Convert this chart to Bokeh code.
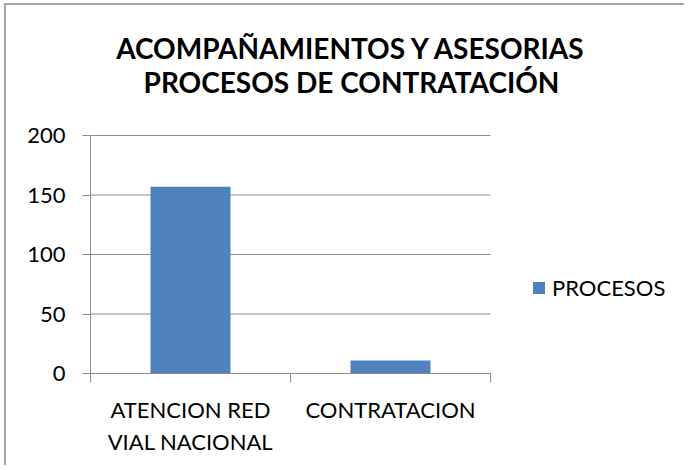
from bokeh.plotting import figure
from bokeh.models import (Range1d, LinearAxis, FixedTicker, Legend, LegendItem,
                          ColumnDataSource, Label)
from bokeh.embed import file_html
from bokeh.resources import INLINE

categories = ["ATENCION RED\nVIAL NACIONAL", "CONTRATACION"]
procesos = [157, 11]
y_ticks = [0, 50, 100, 150, 200]
series_name = "PROCESOS"
title_lines = ["ACOMPAÑAMIENTOS Y ASESORIAS", "PROCESOS DE CONTRATACIÓN"]

FONT = "Lato"
GRAY = "#8c8c8c"
BLUE = "#4F81BD"

# layout (pixels on the canvas)
W, H = 680, 462
LEFT, BOTTOM_PAD, TOP_PAD, RIGHT_PAD = 84, 94, 5, 2
AXIS_W, AXIS_H = 400, 238           # pixel extent of the category axis and the 0..200 value axis
frame_w = W - LEFT - RIGHT_PAD
frame_h = H - BOTTOM_PAD - TOP_PAD

n = len(categories)
y_max = y_ticks[-1]
centers = [i + 0.5 for i in range(n)]
src = ColumnDataSource(dict(x=centers, val=procesos, cat=categories))
grid_src = ColumnDataSource(dict(y=y_ticks, x0=[0] * len(y_ticks), x1=[n] * len(y_ticks)))

p = figure(width=W, height=H, output_backend="svg", toolbar_location=None,
           x_range=Range1d(0, n * frame_w / AXIS_W),
           y_range=Range1d(0, y_max * frame_h / AXIS_H),
           x_axis_location=None, title=None,
           min_border_left=LEFT, min_border_right=RIGHT_PAD,
           min_border_top=TOP_PAD, min_border_bottom=BOTTOM_PAD)
p.styles = {"border-left": "2px solid #a6a6a6", "border-top": "2px solid #a6a6a6",
            "margin-left": "4px", "margin-top": "3px"}
p.outline_line_color = None
p.background_fill_color = "white"
p.border_fill_color = "white"
p.xgrid.visible = False
p.ygrid.visible = False

# horizontal gridlines at the value ticks, only across the category span
p.segment(x0="x0", x1="x1", y0="y", y1="y", source=grid_src, line_color=GRAY, line_width=1)

r = p.vbar(x="x", top="val", width=0.4, source=src, fill_color=BLUE, line_color=None)

# y axis
ya = p.yaxis[0]
ya.ticker = FixedTicker(ticks=y_ticks, minor_ticks=[])
ya.bounds = (0, y_max)
ya.axis_line_color = GRAY
ya.major_tick_line_color = GRAY
ya.major_tick_out = 8
ya.major_tick_in = 0
ya.minor_tick_line_color = None
ya.major_label_text_font = FONT
ya.major_label_text_font_size = "22px"
ya.major_label_text_color = "black"
ya.major_label_standoff = 17

# x axis: category labels at centers, ticks at category boundaries
xa = LinearAxis(ticker=FixedTicker(ticks=centers, minor_ticks=list(range(n + 1))))
xa.bounds = (0, n)
xa.major_label_overrides = {c: lab for c, lab in zip(centers, categories)}
xa.axis_line_color = GRAY
xa.major_tick_line_color = None
xa.major_tick_out = 0
xa.major_tick_in = 0
xa.minor_tick_line_color = GRAY
xa.minor_tick_out = 9
xa.minor_tick_in = 0
xa.major_label_text_font = FONT
xa.major_label_text_font_size = "22px"
xa.major_label_text_color = "black"
xa.major_label_text_line_height = 1.2
xa.major_label_standoff = 13
p.add_layout(xa, "below")

# two-line title, both lines centred on the same x (screen units from frame bottom-left)
title_y = [326, 292]
for text, ty in zip(title_lines, title_y):
    p.add_layout(Label(x=261, y=ty, x_units="screen", y_units="screen", text=text,
                       text_align="center", text_baseline="alphabetic",
                       text_font=FONT, text_font_size="28px", text_font_style="bold",
                       text_color="black"))

legend = Legend(items=[LegendItem(label=series_name, renderers=[r])],
                location=(441, 72), padding=0, margin=0, border_line_color=None,
                background_fill_alpha=0, glyph_width=15, glyph_height=15,
                label_standoff=6, label_text_font=FONT, label_text_font_size="22px",
                label_text_color="black")
p.add_layout(legend, "center")

open("out.html", "w").write(file_html(p, INLINE))
